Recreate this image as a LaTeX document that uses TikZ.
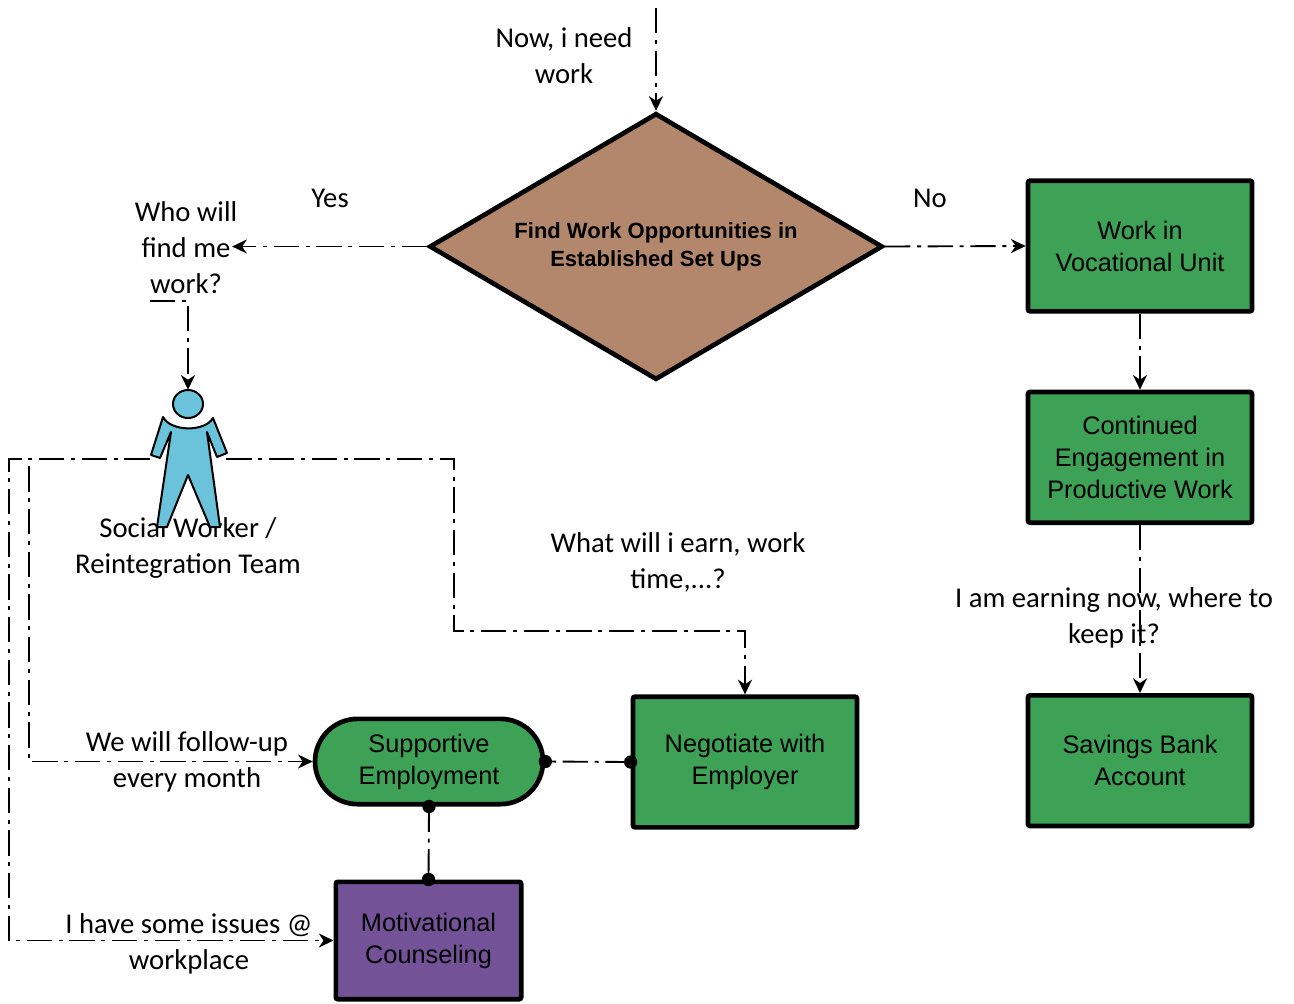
\documentclass[tikz,border=0pt]{standalone}
\usepackage{fontspec}
\setmainfont{Carlito}
\newfontfamily\arialfont{Liberation Sans}
\usetikzlibrary{shapes.geometric,arrows.meta,positioning}
\definecolor{boxgreen}{RGB}{61,161,86}
\definecolor{boxbrown}{RGB}{179,135,107}
\definecolor{boxpurple}{RGB}{116,82,152}
\definecolor{personblue}{RGB}{106,195,218}

\begin{document}
\begin{tikzpicture}[x=0.75pt,y=-0.75pt,
        flow/.style={line width=1.4pt, dash pattern=on 19pt off 5pt on 3pt off 5pt},
        tip/.style={-{Stealth[length=11pt,width=10.5pt,inset=3.5pt]}},
        greenbox/.style={draw, line width=3.5pt, fill=boxgreen, rounded corners=1.5pt,
                minimum width=168pt, minimum height=98pt, inner sep=0pt, align=center,
                font=\arialfont\fontsize{19}{24}\selectfont},
        say/.style={align=center, inner sep=1pt, font=\fontsize{21.5}{27}\selectfont},
        dotend/.style={fill=black}]
    \useasboundingbox (0,0) rectangle (1294,1003);

    \node[draw, diamond, aspect=1.7, line width=3.5pt, fill=boxbrown, inner sep=0pt,
          minimum width=340pt, minimum height=200pt, align=center,
          font=\arialfont\bfseries\fontsize{16.5}{21}\selectfont] (dia) at (656,246.5)
          {Find Work Opportunities in\\Established Set Ups};
    \node[greenbox] (voc) at (1140,246) {Work in\\Vocational Unit};
    \node[greenbox, below=57pt of voc] (cont) {Continued\\Engagement in\\Productive Work};
    \node[greenbox, below=126pt of cont] (sav) {Savings Bank\\Account};
    \node[greenbox] (neg) at (745,762) {Negotiate with\\Employer};
    \node[draw, line width=3.5pt, fill=boxgreen, rounded corners=32pt,
          minimum width=171pt, minimum height=64pt, inner sep=0pt, align=center,
          font=\arialfont\fontsize{19}{24}\selectfont] (sup) at (429,761.5)
          {Supportive\\Employment};
    \node[draw, line width=3.5pt, fill=boxpurple, rounded corners=1.5pt,
          minimum width=139pt, minimum height=88pt, inner sep=0pt, align=center,
          font=\arialfont\fontsize{19}{24}\selectfont] (mot) at (428.5,940.5)
          {Motivational\\Counseling};
    \node[minimum width=57pt, minimum height=103.5pt, inner sep=0pt] (sw) at (188,459) {};

    \node[say] (need) at (564,56) {Now, i need\\work};
    \node[say] (yes) at (330,198) {Yes};
    \node[say] (no) at (930,198) {No};
    \node[say] (who) at (186,248) {Who will\\find me\\work?};
    \node[say] (swname) at (188,548) {Social Worker /\\Reintegration Team};
    \node[say] (earn) at (678,562) {What will i earn, work\\time,...?};
    \node[say] (keep) at (1114,618) {I am earning now, where to\\keep it?};
    \node[say] (follow) at (187,762) {We will follow-up\\every month};
    \node[say] (issue) at (189,944) {I have some issues @\\workplace};

    \coordinate (top) at (656,8);
    \coordinate (wq) at (150,301);
    \coordinate (outerL) at (9,460);
    \coordinate (innerL) at (29,460);
    \coordinate (rightD) at (454,631);

    \draw[flow,tip] (top) -- (dia.north);
    \draw[flow,tip] (dia.west) -- ([xshift=-5pt]who.east |- dia.west);
    \draw[flow,tip] (dia.east) -- (voc.west);
    \draw[flow,tip] (voc.south) -- (cont.north);
    \draw[flow,tip] (cont.south) -- (sav.north);
    \draw[flow,tip] (wq) -| (sw.north);
    \draw[flow,tip] (sw.west) -| (outerL |- mot.west) -- (mot.west);
    \draw[flow,tip] (sw.west) -| (innerL |- sup.west) -- (sup.west);
    \draw[flow,tip] (sw.east) -| (rightD) -| (neg.north);
    \draw[flow] (neg.west) -- (sup.east);
    \draw[flow] (sup.south) -- (mot.north);
    \foreach \a in {neg.west, sup.east, sup.south, mot.north}
        \fill[dotend] (\a) circle (5pt);

    \fill[personblue, draw=black, line width=1.5pt, line join=round]
        (163,417) -- (151,455) -- (160,458) -- (171,432) -- (157,527) -- (167,527)
        -- (188,475) -- (210,527) -- (220,527) -- (207,432) -- (217,457) -- (227,453)
        -- (213,418) .. controls (205,432) and (171,432) .. (163,417) -- cycle;
    \filldraw[fill=personblue, draw=black, line width=1.5pt]
        (188,404) ellipse [x radius=11.25pt, y radius=10.5pt];
\end{tikzpicture}
\end{document}
